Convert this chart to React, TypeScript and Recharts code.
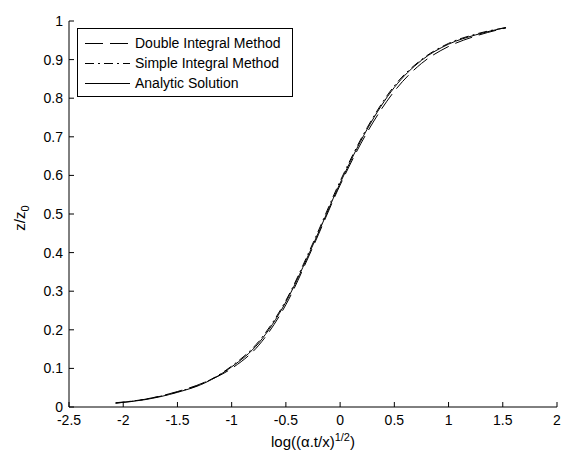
import React from 'react';
import { LineChart, Line, XAxis, YAxis, Legend, Label } from 'recharts';

const FONT = '"Liberation Sans", Arial, sans-serif';

// x-values: log((alpha.t/x)^(1/2))
const xValues = [-2.07, -1.8, -1.5, -1.25, -1, -0.75, -0.5, -0.25, 0, 0.25, 0.5, 0.75, 1, 1.25, 1.53];
// z/z0 values per series
const analyticValues = [0.010, 0.019, 0.038, 0.062, 0.104, 0.166, 0.272, 0.420, 0.580, 0.720, 0.828, 0.898, 0.940, 0.964, 0.983];
const doubleIntegralValues = [0.010, 0.020, 0.040, 0.064, 0.100, 0.160, 0.265, 0.415, 0.575, 0.712, 0.818, 0.890, 0.934, 0.961, 0.982];
const simpleIntegralValues = [0.011, 0.020, 0.039, 0.063, 0.106, 0.170, 0.276, 0.425, 0.585, 0.724, 0.832, 0.900, 0.942, 0.966, 0.983];

const xTicks = [-2.5, -2, -1.5, -1, -0.5, 0, 0.5, 1, 1.5, 2];
const yTicks = [0, 0.1, 0.2, 0.3, 0.4, 0.5, 0.6, 0.7, 0.8, 0.9, 1];

const seriesNames = ['Double Integral Method', 'Simple Integral Method', 'Analytic Solution'];
const seriesDash = ['18 7', '9 4 2 4', undefined];

const toData = (vals: number[]) => xValues.map((x, i) => ({ x, y: vals[i] }));
const doubleData = toData(doubleIntegralValues);
const simpleData = toData(simpleIntegralValues);
const analyticData = toData(analyticValues);

const XLabel = (props: any) => {
  const vb = props.viewBox || {};
  const cx = vb.x + vb.width / 2;
  const y = vb.y + 40;
  return (
    <text x={cx} y={y} textAnchor="middle" fontFamily={FONT} fontSize={15} fill="#000">
      log((α.t/x)
      <tspan dy={-6} fontSize={11}>1/2</tspan>
      <tspan dy={6}>)</tspan>
    </text>
  );
};

const YLabel = (props: any) => {
  const vb = props.viewBox || {};
  const x = vb.x + 25;
  const y = vb.y + vb.height / 2 + 4;
  return (
    <text
      x={x}
      y={y}
      textAnchor="middle"
      fontFamily={FONT}
      fontSize={15}
      fill="#000"
      transform={`rotate(-90, ${x}, ${y})`}
    >
      z/z
      <tspan dy={4} fontSize={11}>0</tspan>
    </text>
  );
};

const LegendBox = () => (
  <div
    style={{
      width: 216,
      height: 69,
      boxSizing: 'border-box',
      border: '1px solid #000',
      background: '#fff',
      fontFamily: FONT,
      fontSize: 14,
      color: '#000',
      paddingTop: 4,
    }}
  >
    {seriesNames.map((name, i) => (
      <div key={name} style={{ display: 'flex', alignItems: 'center', height: 20 }}>
        <svg width={45} height={20} style={{ marginLeft: 7, display: 'block' }}>
          <line x1={0} y1={10.5} x2={45} y2={10.5} stroke="#000" strokeWidth={1} strokeDasharray={seriesDash[i]} />
        </svg>
        <span style={{ marginLeft: 5, lineHeight: '20px', whiteSpace: 'nowrap' }}>{name}</span>
      </div>
    ))}
  </div>
);

export default function App() {
  const tickStyle = { fill: '#000', fontSize: 14, fontFamily: FONT };
  return (
    <div style={{ position: 'absolute', left: 0, top: 0, background: '#fff' }}>
      <LineChart width={563} height={450} margin={{ top: 21, right: 6, bottom: 0, left: 0 }}>
        <XAxis
          xAxisId="bottom"
          dataKey="x"
          type="number"
          domain={[-2.5, 2]}
          ticks={xTicks}
          height={43}
          tickSize={-5}
          tickMargin={13}
          interval={0}
          axisLine={{ stroke: '#000' }}
          tickLine={{ stroke: '#000' }}
          tick={tickStyle}
        >
          <Label content={XLabel} />
        </XAxis>
        <XAxis
          xAxisId="top"
          orientation="top"
          dataKey="x"
          type="number"
          domain={[-2.5, 2]}
          ticks={xTicks}
          height={0}
          tickSize={-5}
          interval={0}
          axisLine={{ stroke: '#000' }}
          tickLine={{ stroke: '#000' }}
          tick={false}
        />
        <YAxis
          yAxisId="left"
          type="number"
          domain={[0, 1]}
          ticks={yTicks}
          width={69}
          tickSize={-5}
          tickMargin={11}
          interval={0}
          axisLine={{ stroke: '#000' }}
          tickLine={{ stroke: '#000' }}
          tick={tickStyle}
        >
          <Label content={YLabel} />
        </YAxis>
        <YAxis
          yAxisId="right"
          orientation="right"
          type="number"
          domain={[0, 1]}
          ticks={yTicks}
          width={0}
          tickSize={-5}
          interval={0}
          axisLine={{ stroke: '#000' }}
          tickLine={{ stroke: '#000' }}
          tick={false}
        />
        <Legend
          layout="horizontal"
          verticalAlign="middle"
          align="center"
          content={LegendBox}
          wrapperStyle={{ left: 77, top: 28, width: 216, height: 69 }}
        />
        <Line
          xAxisId="bottom"
          yAxisId="left"
          data={doubleData}
          dataKey="y"
          name={seriesNames[0]}
          type="monotone"
          stroke="#000"
          strokeWidth={1}
          strokeDasharray={seriesDash[0]}
          dot={false}
          isAnimationActive={false}
        />
        <Line
          xAxisId="bottom"
          yAxisId="left"
          data={simpleData}
          dataKey="y"
          name={seriesNames[1]}
          type="monotone"
          stroke="#000"
          strokeWidth={1}
          strokeDasharray={seriesDash[1]}
          dot={false}
          isAnimationActive={false}
        />
        <Line
          xAxisId="bottom"
          yAxisId="left"
          data={analyticData}
          dataKey="y"
          name={seriesNames[2]}
          type="monotone"
          stroke="#000"
          strokeWidth={1}
          dot={false}
          isAnimationActive={false}
        />
      </LineChart>
    </div>
  );
}
